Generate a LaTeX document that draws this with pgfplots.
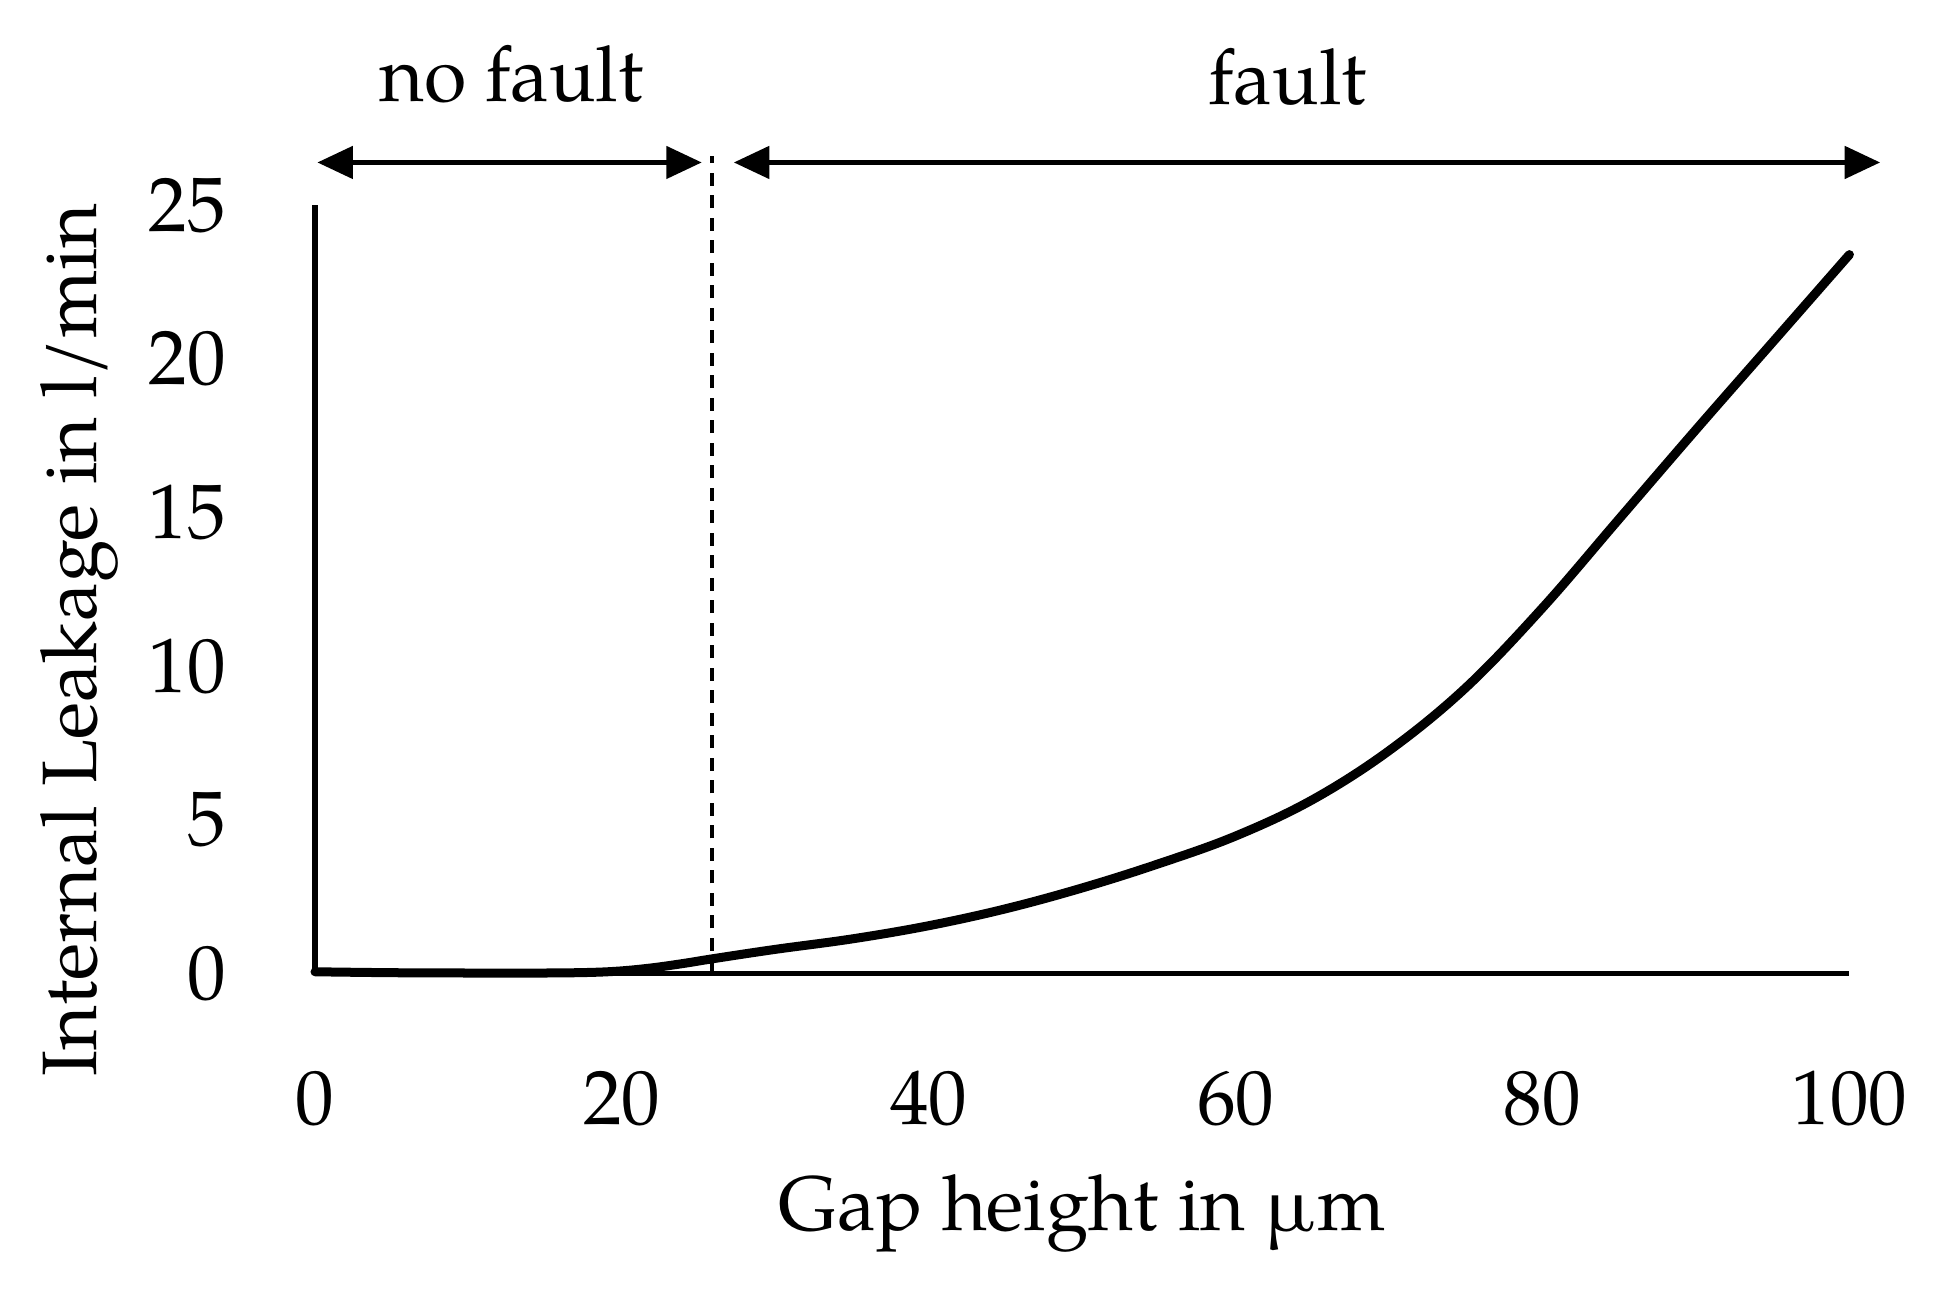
\documentclass[border=0pt]{standalone}
\usepackage{fontspec}
\setmainfont{TeX Gyre Pagella}
\usepackage{pgfplots}
\pgfplotsset{compat=1.18}
\usetikzlibrary{arrows.meta}
\begin{document}
\fontsize{12}{14}\selectfont
\begin{tikzpicture}
\begin{axis}[
  width=238.6pt, height=119.4pt, scale only axis,
  xmin=0, xmax=100, ymin=0, ymax=25,
  axis x line=bottom, axis y line=left,
  axis line style={-, line width=0.8pt},
  xtick={0,20,...,100}, ytick={0,5,...,25},
  major tick length=0pt,
  xticklabel shift=11pt, yticklabel shift=9.7pt,
  /pgf/number format/assume math mode=true,
  tick label style={font=\fontsize{12}{14}\selectfont},
  label style={font=\fontsize{12}{14}\selectfont},
  xlabel={Gap height in µm},
  ylabel={Internal Leakage in l/min},
  xlabel style={at={(rel axis cs:0.5,-0.335)}, anchor=base},
  ylabel style={at={(rel axis cs:-0.1425,0.434)}, anchor=base},
  clip=false,
]
\addplot[line width=1.4pt, line cap=round, smooth, tension=0.6] coordinates {
(0,0.05)(5,0.02)(10,0.01)(15,0.01)(18,0.03)(20,0.08)(22,0.18)(24,0.32)(26,0.48)
(30,0.78)(35,1.12)(40,1.55)(45,2.1)(50,2.78)(55,3.57)(60,4.47)(65,5.65)(70,7.25)
(75,9.3)(80,11.9)(85,14.8)(90,17.7)(95,20.55)(100,23.4)};
\draw[line width=0.65pt, {Triangle[length=5.5pt,width=5pt]}-{Triangle[length=5.5pt,width=5pt]}] (axis cs:0.16,26.4) -- (axis cs:25.2,26.4);
\draw[line width=0.65pt, {Triangle[length=5.5pt,width=5pt]}-{Triangle[length=5.5pt,width=5pt]}] (axis cs:27.3,26.4) -- (axis cs:102,26.4);
\draw[line width=0.6pt, dash pattern=on 2pt off 1.5pt] (axis cs:25.9,0) -- (axis cs:25.9,26.6);
\node[anchor=base, inner sep=0pt] at (axis cs:12.8,28.4) {no fault};
\node[anchor=base, inner sep=0pt] at (axis cs:63.4,28.3) {fault};
\path (rel axis cs:-0.2053,-0.415) rectangle (rel axis cs:1.0521,1.2676);
\end{axis}
\end{tikzpicture}
\end{document}
